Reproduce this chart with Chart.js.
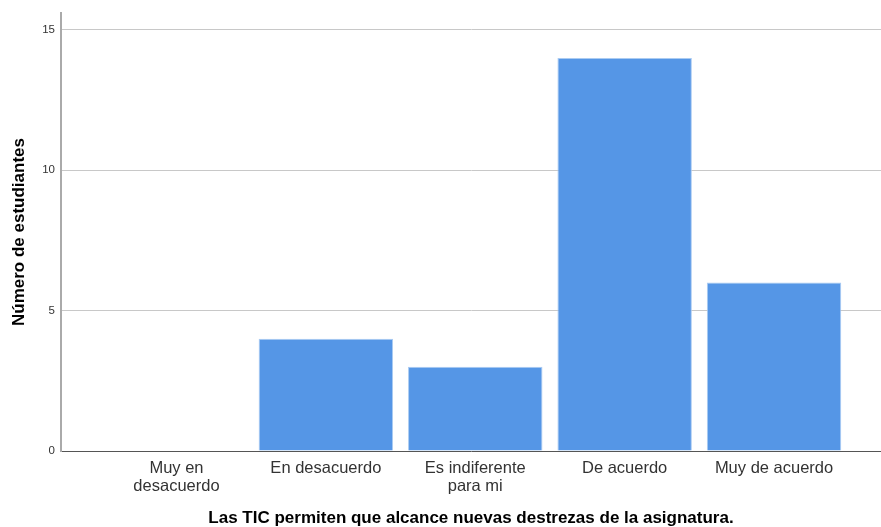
<!DOCTYPE html>
<html>
<head>
<meta charset="utf-8">
<script src="https://cdn.jsdelivr.net/npm/chart.js@4.4.0/dist/chart.umd.min.js"></script>
<style>
  html, body { margin: 0; padding: 0; background: #fff; }
  #wrap { width: 881px; height: 527px; }
</style>
</head>
<body>
<div id="wrap"><canvas id="myChart"></canvas></div>
<script>
// Data ------------------------------------------------>
const categories = [['Muy en', 'desacuerdo'], 'En desacuerdo', ['Es indiferente', 'para mi'], 'De acuerdo', 'Muy de acuerdo'];
const positions = [1, 2, 3, 4, 5];
const students = [0, 4, 3, 14, 6];
const yTicks = [0, 5, 10, 15];

const ctx = document.getElementById('myChart');

new Chart(ctx, {
  type: 'bar',
  data: {
    datasets: [{
      data: positions.map((p, i) => ({ x: p, y: students[i] })),
      backgroundColor: '#5596e6',
      borderColor: '#aacbf2',
      borderWidth: 1,
      categoryPercentage: 1,
      barPercentage: 0.9,
    }]
  },
  options: {
    responsive: true,
    maintainAspectRatio: false,
    animation: false,
    layout: { padding: { top: 13, right: 0, left: 0, bottom: 0 } },
    plugins: {
      legend: { display: false },
      tooltip: { enabled: false }
    },
    scales: {
      x: {
        type: 'linear',
        offset: false,
        min: 0.227,
        max: 5.716,
        afterFit: (s) => { s.height = 76; },
        afterBuildTicks: (s) => { s.ticks = positions.map(v => ({ value: v })); },
        grid: { display: false, drawTicks: false, offset: false },
        border: { color: '#555', width: 1 },
        ticks: {
          padding: 8,
          color: '#333',
          font: { family: 'Arial, Liberation Sans', size: 16.5, lineHeight: 1.1 },
          maxRotation: 0,
          callback: (v) => categories[v - 1]
        },
        title: {
          display: true,
          text: 'Las TIC permiten que alcance nuevas destrezas de la asignatura.',
          color: '#000',
          font: { family: 'Arial, Liberation Sans', size: 17, weight: 'bold', lineHeight: 1 },
          padding: { top: 0, bottom: 0 }
        }
      },
      y: {
        min: 0,
        max: 15.6,
        afterFit: (s) => { s.width = 61; },
        afterBuildTicks: (s) => { s.ticks = yTicks.map(v => ({ value: v })); },
        grid: {
          drawTicks: false,
          color: (c) => c.tick && c.tick.value === 0 ? 'rgba(0,0,0,0)' : '#c8c8c8',
          lineWidth: 1
        },
        border: { color: '#aaaaaa', width: 2 },
        ticks: {
          padding: 6,
          color: '#333',
          font: { family: 'Arial, Liberation Sans', size: 11.5 }
        },
        title: {
          display: true,
          text: 'Número de estudiantes',
          color: '#000',
          font: { family: 'Arial, Liberation Sans', size: 17, weight: 'bold' },
          padding: { top: 9, bottom: 0 }
        }
      }
    }
  }
});
</script>
</body>
</html>
